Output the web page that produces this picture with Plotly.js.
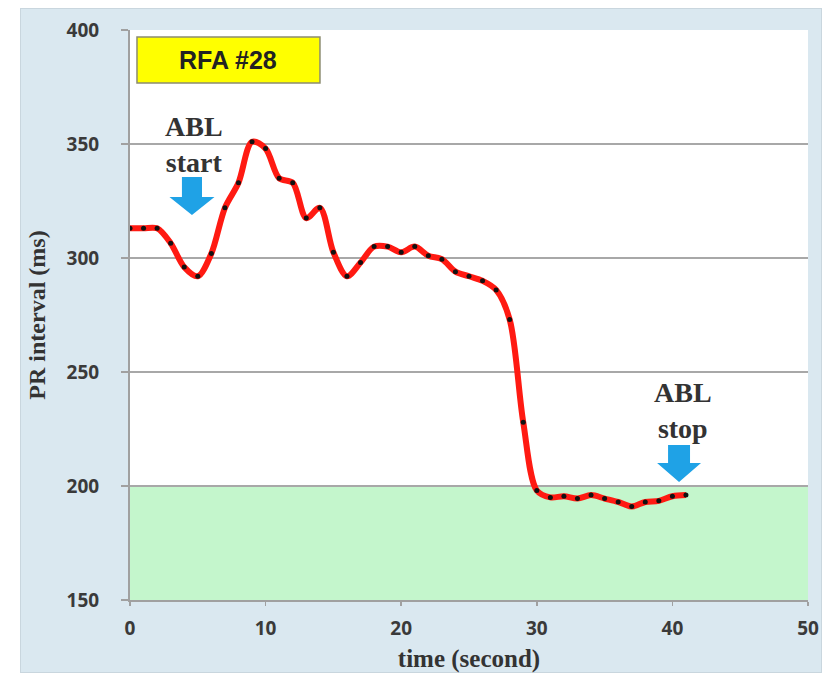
<!DOCTYPE html>
<html>
<head>
<meta charset="utf-8">
<script src="https://cdn.plot.ly/plotly-3.0.1.min.js"></script>
<style>
  html, body { margin: 0; padding: 0; background: #ffffff; }
  #panel {
    position: absolute; left: 20px; top: 8px; width: 800px; height: 663px;
    background: #dae8f0; border: 1px solid #c9d6de;
  }
  #chart { position: absolute; left: 0; top: 0; width: 835px; height: 677px; }
</style>
</head>
<body>
<div id="panel"></div>
<div id="chart"></div>
<script>
// PR interval recorded once per second during the ablation run
const timeSec = [0, 1, 2, 3, 4, 5, 6, 7, 8, 9, 10, 11, 12, 13, 14, 15, 16, 17, 18, 19, 20,
                 21, 22, 23, 24, 25, 26, 27, 28, 29, 30, 31, 32, 33, 34, 35, 36, 37, 38, 39, 40, 41];
const prIntervalMs = [313, 313, 313, 306.5, 296, 292, 302, 322, 333, 351, 348,
                      335, 333, 317.5, 322, 302.5, 292, 298, 305, 305, 302.5,
                      305, 301, 299.5, 294, 292, 290, 286, 273, 228, 198,
                      195, 195.5, 194.5, 196, 194.5, 193, 191, 193, 193.5, 195.5, 196];

const xTicks = [0, 10, 20, 30, 40, 50];
const yTicks = [150, 200, 250, 300, 350, 400];
const targetBand = [150, 200];   // PR range shaded green
const boxLabel = 'RFA #28';
const startLabel = 'ABL<br>start';
const stopLabel = 'ABL<br>stop';

// block arrow pointing down, in data units
function downArrow(cx, top, headTop, tip, shaftHalf, headHalf) {
  return 'M ' + (cx - shaftHalf) + ',' + top +
         ' L ' + (cx + shaftHalf) + ',' + top +
         ' L ' + (cx + shaftHalf) + ',' + headTop +
         ' L ' + (cx + headHalf) + ',' + headTop +
         ' L ' + cx + ',' + tip +
         ' L ' + (cx - headHalf) + ',' + headTop +
         ' L ' + (cx - shaftHalf) + ',' + headTop + ' Z';
}

const serif = 'Liberation Serif, Times New Roman, serif';
const sans = 'Open Sans, DejaVu Sans, sans-serif';

const trace = {
  x: timeSec,
  y: prIntervalMs,
  type: 'scatter',
  mode: 'lines+markers',
  line: { color: '#ff1a12', width: 6, shape: 'spline', smoothing: 0.9 },
  marker: { color: '#111111', size: 5 },
  hoverinfo: 'x+y'
};

const layout = {
  width: 835,
  height: 677,
  margin: { l: 130, r: 27, t: 30, b: 77 },
  paper_bgcolor: 'rgba(0,0,0,0)',
  plot_bgcolor: '#ffffff',
  showlegend: false,
  xaxis: {
    range: [0, 50],
    tickvals: xTicks,
    ticktext: xTicks.map(String),
    showgrid: false,
    zeroline: false,
    showline: true,
    linecolor: '#a0a0a0',
    linewidth: 2,
    ticks: 'outside',
    ticklen: 4,
    tickwidth: 1.5,
    tickcolor: '#a0a0a0',
    ticklabelstandoff: 6,
    tickfont: { family: sans, size: 19, color: '#3a3a3a', weight: 'bold' },
    title: {
      text: 'time (second)',
      font: { family: serif, size: 25, color: '#333333', weight: 'bold' },
      standoff: 10
    }
  },
  yaxis: {
    range: [150, 400],
    tickvals: yTicks,
    ticktext: yTicks.map(String),
    showgrid: true,
    gridcolor: '#a8a8a8',
    gridwidth: 2,
    zeroline: false,
    showline: true,
    linecolor: '#a0a0a0',
    linewidth: 2,
    ticks: 'outside',
    ticklen: 7,
    tickwidth: 1.5,
    tickcolor: '#a0a0a0',
    ticklabelstandoff: 18,
    tickfont: { family: sans, size: 19, color: '#3a3a3a', weight: 'bold' },
    title: {
      text: 'PR interval (ms)',
      font: { family: serif, size: 24, color: '#333333', weight: 'bold' },
      standoff: 14
    }
  },
  shapes: [
    {
      type: 'rect', xref: 'paper', yref: 'y', layer: 'below',
      x0: 0, x1: 1, y0: targetBand[0], y1: targetBand[1],
      fillcolor: '#c4f6cc', line: { width: 0 }
    },
    {
      type: 'rect', xref: 'paper', yref: 'paper', layer: 'above',
      x0: 0.0103, x1: 0.2802, y0: 0.907, y1: 0.9877,
      fillcolor: '#ffff00', line: { color: '#8c8c70', width: 1.5 }
    },
    {
      type: 'path', xref: 'x', yref: 'y', layer: 'above',
      path: downArrow(4.57, 335.5, 326.8, 318.9, 0.74, 1.66),
      fillcolor: '#1fa2e6', line: { width: 0 }
    },
    {
      type: 'path', xref: 'x', yref: 'y', layer: 'above',
      path: downArrow(40.49, 218, 210.1, 201.8, 0.81, 1.62),
      fillcolor: '#1fa2e6', line: { width: 0 }
    }
  ],
  annotations: [
    {
      text: boxLabel, xref: 'paper', yref: 'paper',
      x: 0.145, y: 0.9475, xanchor: 'center', yanchor: 'middle', showarrow: false,
      font: { family: 'Liberation Sans, Arial, sans-serif', size: 25, color: '#222222', weight: 'bold' }
    },
    {
      text: startLabel, xref: 'x', yref: 'y',
      x: 4.72, y: 349.6, xanchor: 'center', yanchor: 'middle', showarrow: false,
      font: { family: serif, size: 28, color: '#333333', weight: 'bold' }
    },
    {
      text: stopLabel, xref: 'x', yref: 'y',
      x: 40.78, y: 233.3, xanchor: 'center', yanchor: 'middle', showarrow: false,
      font: { family: serif, size: 28, color: '#333333', weight: 'bold' }
    }
  ]
};

Plotly.newPlot('chart', [trace], layout, { displayModeBar: false, staticPlot: true });
</script>
</body>
</html>
